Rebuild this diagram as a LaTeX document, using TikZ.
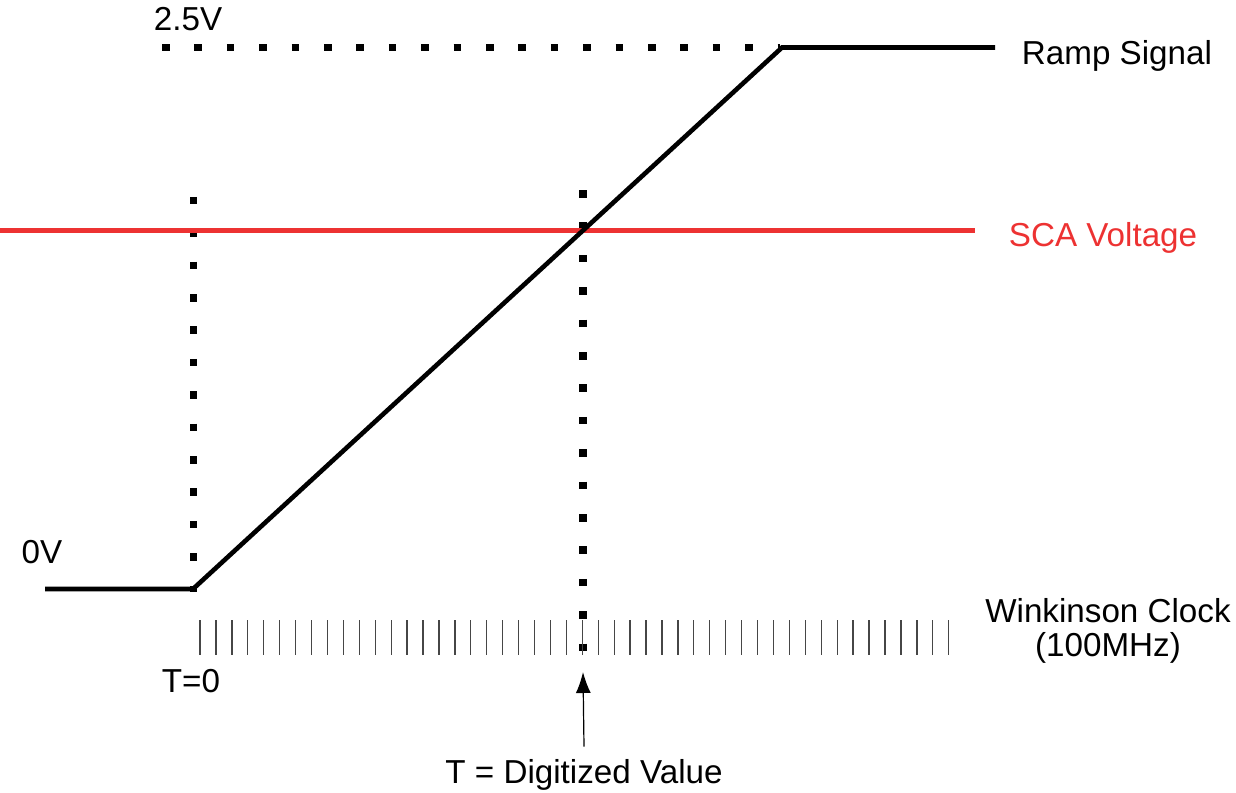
\documentclass[tikz,border=0pt]{standalone}
\usepackage{fontspec}
\setmainfont{Liberation Sans}
\usetikzlibrary{arrows.meta}
\definecolor{scared}{RGB}{237,50,50}
\definecolor{tickgray}{RGB}{70,70,70}

\begin{document}
\begin{tikzpicture}[x=0.5pt, y=-0.5pt, >={Latex[length=10.5pt,width=7.5pt]},
    every node/.style={font=\fontsize{16.6}{17}\selectfont, inner sep=0pt},
    dots/.style={line width=3.8pt, dash pattern=on 3.8pt off 12.4pt},
    tick/.style={tickgray, line width=0.65pt}]
\useasboundingbox (0,0) rectangle (1236,792);
% levels
\draw[dots] (162,47.5) -- (780,47.5);
\node[anchor=base] (lblhigh) at (188,31) {2.5V};
\node[anchor=base] (lbllow) at (42,563) {0V};
% sample lines
\draw[dots] (193.5,196.8) -- (193.5,592);
\draw[dots] (582.7,190) -- (582.7,651);
% SCA voltage
\draw[scared, line width=2.5pt] (0,230.5) -- (975,230.5);
\node[anchor=base, text=scared] (lblsca) at (1103,246.7) {SCA Voltage};
% ramp
\draw[line width=2.3pt] (45,589) -- (193,589) -- (782,47.5) -- (995,47.5);
\node[anchor=base] (lblramp) at (1117,65) {Ramp Signal};
% clock ticks
\foreach \i in {0,...,47}
    \draw[tick] ({200+15.93*\i},620) -- ++(0,35);
\node[anchor=base] (lblzero) at (191,692) {T=0};
\node[anchor=base, align=center] (lblclock) at (1108,656.7) {Winkinson Clock\\(100MHz)};
% digitized value
\coordinate (tdig) at (583,672);
\node[anchor=base, inner sep=6pt] (lbldig) at (584,783) {T = Digitized Value};
\draw[->, line width=0.6pt] (lbldig.north) -- (tdig);
\end{tikzpicture}
\end{document}
